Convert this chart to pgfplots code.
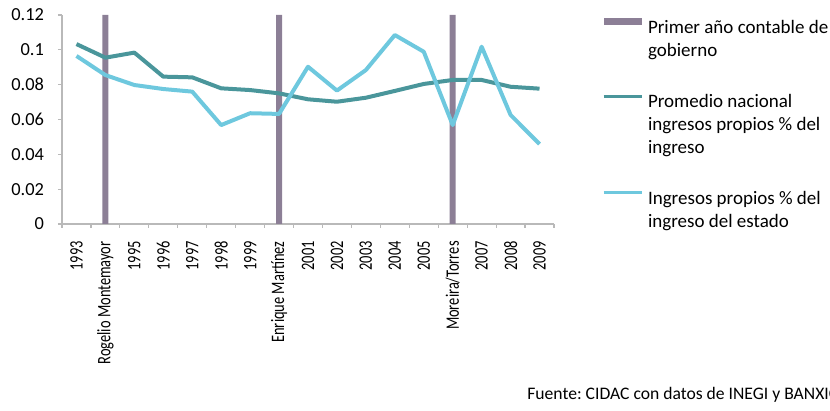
\documentclass[border=0pt]{standalone}
\usepackage{fontspec}
\setmainfont{Carlito}
\usepackage{pgfplots}
\pgfplotsset{compat=1.18}
\definecolor{barc}{RGB}{140,127,150}
\definecolor{darkc}{RGB}{74,150,155}
\definecolor{lightc}{RGB}{110,200,222}
\definecolor{axc}{RGB}{185,185,185}
\frenchspacing
\begin{document}
\begin{tikzpicture}
\useasboundingbox (0pt,0pt) rectangle (415pt,205.5pt);
\clip (0pt,0pt) rectangle (415pt,205.5pt);
\begin{axis}[
  at={(31pt,93.5pt)}, anchor=south west,
  scale only axis, width=246pt, height=104.5pt,
  xmin=-0.5, xmax=16.5, ymin=0, ymax=0.12,
  axis x line*=bottom, axis y line*=left,
  axis line style={axc, line width=0.6pt},
  xtick={0,...,16},
  xticklabels={1993,Rogelio Montemayor,1995,1996,1997,1998,1999,Enrique Martínez,2001,2002,2003,2004,2005,Moreira/Torres,2007,2008,2009},
  major x tick style={draw=none},
  minor xtick={-0.5,0.5,...,16.5},
  minor tick length=2pt,
  major tick length=2pt,
  tick align=outside,
  tick style={axc, line width=0.6pt},
  ytick={0,0.02,0.04,0.06,0.08,0.1,0.12},
  yticklabels={0,0.02,0.04,0.06,0.08,0.1,0.12},
  x tick label style={yshift=-4pt, rotate=90, xscale=0.76, anchor=east, font=\fontsize{9.5}{11}\selectfont},
  y tick label style={font=\fontsize{9.2}{11}\selectfont, xshift=-3.5pt},
  legend style={at={(1.0976,0.984)}, anchor=north west, draw=none, fill=none,
    inner sep=0pt, outer sep=0pt, font=\fontsize{9.5}{11.5}\selectfont,
    row sep=17.4pt, column sep=2.5pt, nodes={inner sep=0pt, align=left},
    cells={anchor=base west}},
]
\addplot[ybar, bar width=3pt, fill=barc, draw=none,
  legend image code/.code={\fill[barc] (0pt,15.5pt) rectangle (19pt,19pt);}]
  coordinates {(1,0.12) (7,0.12) (13,0.12)};
\addlegendentry{Primer año contable de\\gobierno}
\addplot[darkc, line width=2pt, line join=round,
  legend image code/.code={\draw[darkc, line width=1.5pt] (0pt,28.5pt) -- (19pt,28.5pt);}]
  coordinates {(0,0.1033) (1,0.0955) (2,0.0984) (3,0.0846) (4,0.0842) (5,0.0779) (6,0.0769) (7,0.0750) (8,0.0716) (9,0.0702) (10,0.0725) (11,0.0764) (12,0.0804) (13,0.0827) (14,0.0827) (15,0.0788) (16,0.0777)};
\addlegendentry{Promedio nacional\\ingresos propios \% del\\ingreso}
\addplot[lightc, line width=2pt, line join=round,
  legend image code/.code={\draw[lightc, line width=1.5pt] (0pt,17.5pt) -- (19pt,17.5pt);}]
  coordinates {(0,0.0965) (1,0.0855) (2,0.0798) (3,0.0775) (4,0.0760) (5,0.0568) (6,0.0636) (7,0.0632) (8,0.0903) (9,0.0766) (10,0.0884) (11,0.1085) (12,0.0989) (13,0.0568) (14,0.1018) (15,0.0626) (16,0.0459)};
\addlegendentry{Ingresos propios \% del\\ingreso del estado}
\end{axis}
\node[anchor=base west, inner sep=0pt, font=\fontsize{8.8}{10}\selectfont] at (263.5pt,5.5pt) {Fuente: CIDAC con datos de INEGI y BANXICO};
\end{tikzpicture}
\end{document}
